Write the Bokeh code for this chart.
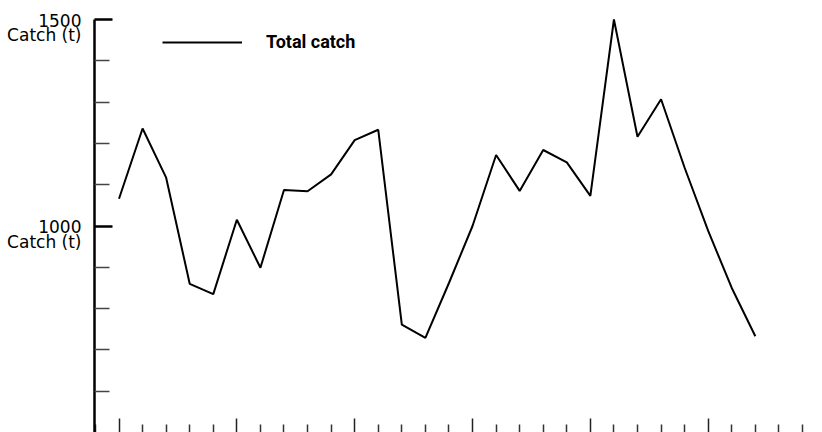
from bokeh.plotting import figure
from bokeh.models import FixedTicker, Range1d, Legend, LegendItem, LinearAxis
from bokeh.layouts import row
from bokeh.core.properties import value
from bokeh.embed import file_html
from bokeh.resources import INLINE

years = list(range(1970, 1998))
catch = [1066, 1236, 1117, 860, 835, 1015, 899, 1087, 1084, 1125, 1208, 1233,
         761, 729, 862, 1000, 1172, 1085, 1184, 1154, 1073, 1500, 1216, 1307,
         1141, 988, 850, 733]
y_major = [1000, 1500]
y_minor = [600, 700, 800, 900, 1100, 1200, 1300, 1400]
y_tick_labels = ["1000", "1500"]
y_unit_label = "Catch (t)"
x_major = list(range(1970, 2001, 5))
x_minor = [y for y in range(1969, 2001) if y % 5 != 0]
legend_label = "Total catch"

x_start = years[0] - 1.04
x_end = years[0] + 29.85
y_start, y_top = 500, 1500

H = 432
TOP = 19
LEFT_W = 92
units_per_px = (y_top - y_start) / (H - TOP)
# shared vertical range; the frame starts at the page top, axis stops at 1500
y_range = Range1d(y_start, y_top + TOP * units_per_px)

# ---- narrow panel that holds the y tick labels (same vertical scale) ----
pl = figure(width=LEFT_W, height=H, output_backend="svg", toolbar_location=None,
            x_range=Range1d(0, LEFT_W), y_range=y_range,
            x_axis_location=None, y_axis_location=None,
            min_border_left=0, min_border_top=0, min_border_right=0, min_border_bottom=0)
pl.outline_line_color = None
pl.grid.visible = False
label_x = [LEFT_W - 11] * len(y_major)
pl.text(x=label_x, y=y_major, text=y_tick_labels, text_align="right",
        text_baseline="alphabetic", y_offset=0.5,
        text_font=value("DejaVu Sans"), text_font_size="17px", text_color="black")
pl.text(x=label_x, y=y_major, text=[y_unit_label] * len(y_major), text_align="right",
        text_baseline="alphabetic", y_offset=15.5,
        text_font=value("DejaVu Sans"), text_font_size="17px", text_color="black")

# ---- main chart ----
p = figure(width=822 - LEFT_W, height=H, output_backend="svg", toolbar_location=None,
           x_range=Range1d(x_start, x_end), y_range=y_range,
           x_axis_location=None, y_axis_location=None,
           min_border_left=2, min_border_top=0, min_border_right=0, min_border_bottom=0)
p.outline_line_color = None
p.grid.visible = False
p.background_fill_color = "white"

r = p.line(years, catch, line_color="black", line_width=2)

# left axis: line + short ticks every 100 t
yax = LinearAxis(ticker=FixedTicker(ticks=[], minor_ticks=y_minor), bounds=(y_start, y_top))
yax.axis_line_width = 2.5
yax.axis_line_color = "black"
yax.major_tick_in = 0
yax.major_tick_out = 0
yax.major_label_standoff = 0
yax.minor_tick_in = 15
yax.minor_tick_out = 0
yax.minor_tick_line_width = 1.5
yax.minor_tick_line_color = "#444444"
p.add_layout(yax, "left")

# left axis: long ticks at the labelled values
yax2 = LinearAxis(ticker=FixedTicker(ticks=[], minor_ticks=y_major), bounds=(y_start, y_top))
yax2.axis_line_color = None
yax2.major_tick_in = 0
yax2.major_tick_out = 0
yax2.major_label_standoff = 0
yax2.minor_tick_in = 18
yax2.minor_tick_out = 0
yax2.minor_tick_line_width = 2.5
yax2.minor_tick_line_color = "black"
p.add_layout(yax2, "left")

# bottom axis: short ticks every year
xax = LinearAxis(ticker=FixedTicker(ticks=[], minor_ticks=x_minor))
xax.axis_line_color = "#777777"
xax.axis_line_width = 1
xax.major_tick_in = 0
xax.major_tick_out = 0
xax.major_label_standoff = 0
xax.minor_tick_in = 8
xax.minor_tick_out = 0
xax.minor_tick_line_width = 1.5
xax.minor_tick_line_color = "#333333"
p.add_layout(xax, "below")

# bottom axis: long ticks every five years
xax2 = LinearAxis(ticker=FixedTicker(ticks=[], minor_ticks=x_major))
xax2.axis_line_color = None
xax2.major_tick_in = 0
xax2.major_tick_out = 0
xax2.major_label_standoff = 0
xax2.minor_tick_in = 14
xax2.minor_tick_out = 0
xax2.minor_tick_line_width = 1.5
xax2.minor_tick_line_color = "#222222"
p.add_layout(xax2, "below")

legend = Legend(items=[LegendItem(label=legend_label, renderers=[r])],
                location=(68, 380), glyph_width=80, glyph_height=20,
                label_standoff=24, padding=0, margin=0, spacing=0,
                border_line_color=None, background_fill_alpha=0,
                label_text_font="Roboto", label_text_font_style="bold",
                label_text_font_size="18px", label_text_color="black")
p.add_layout(legend)

layout = row(pl, p, spacing=0)
open("out.html", "w").write(file_html(layout, INLINE))
